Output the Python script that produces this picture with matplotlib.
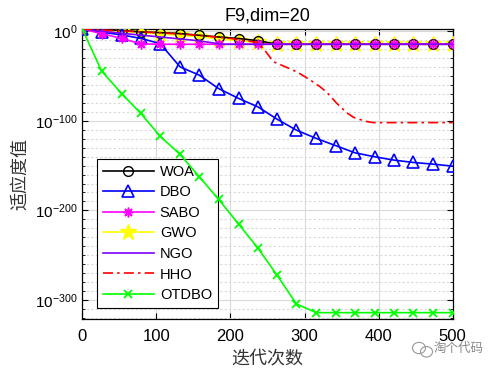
import matplotlib
matplotlib.use("Agg")
import matplotlib.pyplot as plt
from matplotlib.patches import Ellipse
from matplotlib.ticker import MultipleLocator, FuncFormatter

plt.rcParams['font.family'] = ['Liberation Sans', 'Noto Sans CJK SC', 'DejaVu Sans']
plt.rcParams['mathtext.fontset'] = 'custom'
plt.rcParams['mathtext.rm'] = 'Liberation Sans'
plt.rcParams['mathtext.it'] = 'Liberation Sans:italic'

# iterations where markers sit
iters = [0, 26, 53, 79, 105, 132, 158, 184, 211, 237,
         263, 289, 316, 342, 368, 395, 421, 447, 474, 500]

# fitness as log10 exponents (values drop to ~1e-314, so plot exponents)
woa = [2.5, 1.9, 1.1, -0.8, -1.5, -2.6, -4.5, -6.4, -8.1, -10.5,
       -14.5, -14.5, -14.5, -14.5, -14.5, -14.5, -14.5, -14.5, -14.5, -14.5]
dbo = [2.5, -1, -4, -8, -13.7, -39.8, -49, -64, -75, -84.4,
       -98.2, -110.4, -119.7, -127.7, -135.7, -140.2, -143.9, -146.5, -148.4, -150.6]
sabo = [2.5, -2.6, -8, -14, -14.5, -14.5, -14.5, -14.5, -14.5, -14.5,
        -14.5, -14.5, -14.5, -14.5, -14.5, -14.5, -14.5, -14.5, -14.5, -14.5]
gwo = [2.5, 1.5, 0, -1.5, -3, -4.5, -6, -8.5, -10.5, -12.5,
       -14.5, -14.5, -14.5, -14.5, -14.5, -14.5, -14.5, -14.5, -14.5, -14.5]
otdbo = [2.5, -44.3, -69.5, -91.8, -117.1, -137.5, -162.5, -187.7, -215.3, -242,
         -272.5, -304.5, -314.2, -314.2, -314.2, -314.2, -314.2, -314.2, -314.2, -314.2]

ngo_it = [0, 50, 100, 150, 190, 500]
ngo = [2.5, -2, -6, -10, -14.5, -14.5]

hho_it = [0, 50, 100, 150, 200, 237, 247, 258, 275, 290, 307, 321, 330,
          343, 357, 366, 382, 393, 500]
hho = [2.5, 0.5, -1.5, -4, -8, -12.5, -22, -34, -40, -45.5, -54, -62, -68,
       -80, -91, -96, -100.5, -102, -102]

fig = plt.figure(figsize=(5, 3.75), dpi=100)
ax = fig.add_axes([0.1646, 0.1493, 0.7408, 0.7733])

lw = 1.2
l_woa, = ax.plot(iters, woa, color='k', marker='o', mfc='none', ms=7, lw=lw, zorder=4, label='WOA')
l_dbo, = ax.plot(iters, dbo, color='#0000ff', marker='^', mfc='none', ms=8.5, mew=1.2, lw=lw, zorder=5, label='DBO')
l_sabo, = ax.plot(iters, sabo, color='#ff00ff', marker=(8, 2, 0), ms=7, mew=1.1, lw=lw, zorder=6, label='SABO')
l_gwo, = ax.plot(iters, gwo, color='#ffff00', marker='*', mfc='#ffff00', ms=12, lw=lw, zorder=3, label='GWO')
l_ngo, = ax.plot(ngo_it, ngo, color='#7f00ff', lw=lw, zorder=7, label='NGO')
l_hho, = ax.plot(hho_it, hho, color='#ff0000', ls=(0, (6, 2.5, 1.5, 2.5)), lw=lw, zorder=7, label='HHO')
l_ot, = ax.plot(iters, otdbo, color='#00ff00', marker='x', ms=6, mew=1.3, lw=lw, zorder=8, label='OTDBO')

ax.set_xlim(0, 500)
ax.set_ylim(-321.3, 2.5)
ax.set_xticks([0, 100, 200, 300, 400, 500])
ax.set_yticks([0, -100, -200, -300])
ax.yaxis.set_minor_locator(MultipleLocator(10))
ax.yaxis.set_major_formatter(FuncFormatter(lambda v, p: r'$10^{%d}$' % round(v)))

ax.grid(True, which='major', color='#d9d9d9', lw=0.8, ls='-')
ax.grid(True, which='minor', axis='y', color='#d9d9d9', lw=0.8, ls=(0, (2, 2)))
ax.set_axisbelow(True)
ax.tick_params(which='both', direction='in', top=True, right=True)
ax.tick_params(which='major', length=4)
ax.tick_params(which='minor', length=2)
ax.tick_params(axis='x', labelsize=12, pad=7)
ax.tick_params(axis='y', labelsize=11)
for s in ax.spines.values():
    s.set_linewidth(0.9)

ax.set_title('F9,dim=20', fontsize=13, pad=6)
ax.set_xlabel('迭代次数', fontsize=13, family=['Noto Sans CJK SC'], color='#333333')
ax.set_ylabel('适应度值', fontsize=13, family=['Noto Sans CJK SC'], color='#333333')

leg = ax.legend(handles=[l_woa, l_dbo, l_sabo, l_gwo, l_ngo, l_hho, l_ot],
                loc='lower left', bbox_to_anchor=(0.04, 0.038), borderaxespad=0,
                fontsize=10.5, handlelength=3.5, handletextpad=0.4, labelspacing=0.45,
                borderpad=0.4, fancybox=False, framealpha=1, edgecolor='k')
leg.get_frame().set_linewidth(0.8)

# watermark
fig.add_artist(Ellipse((0.838, 0.072), 0.026, 0.03, transform=fig.transFigure,
                       fill=False, ec='#999999', lw=0.8))
fig.add_artist(Ellipse((0.853, 0.062), 0.024, 0.028, transform=fig.transFigure,
                       fill=False, ec='#999999', lw=0.8))
fig.text(0.968, 0.07, '淘个代码', fontsize=9, color='#888888',
         family=['Noto Sans CJK SC'], ha='right', va='center')

fig.savefig('out.png', dpi=100)
